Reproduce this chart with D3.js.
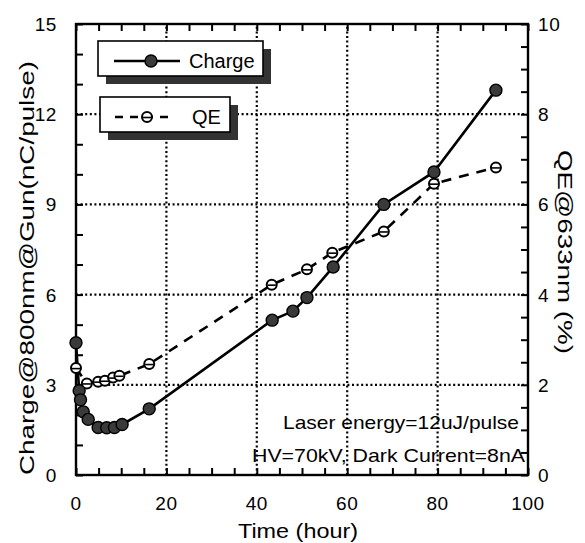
<!DOCTYPE html>
<html>
<head>
<meta charset="utf-8">
<script src="https://cdn.jsdelivr.net/npm/d3@7"></script>
<style>
  body { margin: 0; background: #fff; }
  svg { display: block; }
  text { font-family: "Liberation Sans", Arial, sans-serif; fill: #000; }
</style>
</head>
<body>
<svg id="chart" width="585" height="543"></svg>
<script>
// data
const chargeTime = [0, 0.7, 1.0, 1.6, 2.7, 4.9, 6.8, 8.5, 10.2, 16.2, 43.4, 48.0, 51.1, 56.9, 68.1, 79.2, 92.9];
const chargeValue = [4.4, 2.8, 2.5, 2.1, 1.85, 1.58, 1.57, 1.58, 1.68, 2.2, 5.15, 5.45, 5.9, 6.92, 9.0, 10.08, 12.8];

const qeTime = [0, 2.4, 4.9, 6.4, 8.2, 9.6, 16.2, 43.3, 51.1, 56.7, 68.1, 79.2, 92.9];
const qeValue = [2.37, 2.03, 2.07, 2.09, 2.16, 2.2, 2.46, 4.22, 4.56, 4.93, 5.4, 6.46, 6.82];

const xTicks = [0, 20, 40, 60, 80, 100];
const leftTicks = [0, 3, 6, 9, 12, 15];
const rightTicks = [0, 2, 4, 6, 8, 10];

const svg = d3.select("#chart");
const font = '"Liberation Sans", Arial, sans-serif';

const x = d3.scaleLinear().domain([0, 100]).range([76, 528]);
const yL = d3.scaleLinear().domain([0, 15]).range([475, 24]);
const yR = d3.scaleLinear().domain([0, 10]).range([475, 24]);

// grid
const grid = svg.append("g")
  .attr("stroke", "#000")
  .attr("stroke-width", 2.2)
  .attr("stroke-dasharray", "2,2.6");
grid.selectAll(".gx").data(xTicks.slice(1, -1)).enter().append("line")
  .attr("x1", d => x(d)).attr("x2", d => x(d))
  .attr("y1", yL(0)).attr("y2", yL(15));
grid.selectAll(".gy").data(leftTicks.slice(1, -1)).enter().append("line")
  .attr("x1", x(0)).attr("x2", x(100))
  .attr("y1", d => yL(d)).attr("y2", d => yL(d));

// axes with inward ticks
function styleAxis(g) {
  g.select(".domain").remove();
  g.selectAll("line").attr("stroke", "#000").attr("stroke-width", 2);
  g.selectAll("text").remove();
}
const minorX = d3.range(0, 101, 5);
svg.append("g").attr("transform", `translate(0,${yL(0)})`)
  .call(d3.axisBottom(x).tickValues(minorX).tickSize(-7)).call(styleAxis);
svg.append("g").attr("transform", `translate(0,${yL(15)})`)
  .call(d3.axisTop(x).tickValues(minorX).tickSize(-7)).call(styleAxis);
svg.append("g").attr("transform", `translate(${x(0)},0)`)
  .call(d3.axisLeft(yL).tickValues(d3.range(0, 16, 1)).tickSize(-7)).call(styleAxis);
svg.append("g").attr("transform", `translate(${x(100)},0)`)
  .call(d3.axisRight(yR).tickValues(d3.range(0, 10.01, 0.5)).tickSize(-7)).call(styleAxis);

// frame
svg.append("rect")
  .attr("x", x(0)).attr("y", yL(15))
  .attr("width", x(100) - x(0)).attr("height", yL(0) - yL(15))
  .attr("fill", "none").attr("stroke", "#000").attr("stroke-width", 2.4);

// tick labels
svg.selectAll(".xl").data(xTicks).enter().append("text")
  .attr("x", d => x(d)).attr("y", 510)
  .attr("text-anchor", "middle").attr("font-size", 19).attr("letter-spacing", 0.6)
  .text(d => d);
svg.selectAll(".yl").data(leftTicks).enter().append("text")
  .attr("x", 57).attr("y", d => yL(d) + 7)
  .attr("text-anchor", "end").attr("font-size", 19).attr("letter-spacing", 0.6)
  .text(d => d);
svg.selectAll(".yr").data(rightTicks).enter().append("text")
  .attr("x", 538).attr("y", d => yR(d) + 7)
  .attr("text-anchor", "start").attr("font-size", 19).attr("letter-spacing", 0.6)
  .text(d => d);

// axis titles
svg.append("text")
  .attr("x", 298).attr("y", 538)
  .attr("text-anchor", "middle").attr("font-size", 21)
  .attr("textLength", 120).attr("lengthAdjust", "spacingAndGlyphs")
  .text("Time  (hour)");
svg.append("text")
  .attr("transform", "translate(34,268) rotate(-90)")
  .attr("text-anchor", "middle").attr("font-size", 21)
  .attr("textLength", 414).attr("lengthAdjust", "spacingAndGlyphs")
  .text("Charge@800nm@Gun(nC/pulse)");
svg.append("text")
  .attr("transform", "translate(558,252) rotate(90)")
  .attr("text-anchor", "middle").attr("font-size", 21)
  .attr("textLength", 204).attr("lengthAdjust", "spacingAndGlyphs")
  .text("QE@633nm  (%)");

// annotations
svg.append("text")
  .attr("x", 519).attr("y", 429).attr("text-anchor", "end").attr("font-size", 19)
  .attr("textLength", 236).attr("lengthAdjust", "spacingAndGlyphs")
  .text("Laser energy=12uJ/pulse");
svg.append("text")
  .attr("x", 525).attr("y", 462).attr("text-anchor", "end").attr("font-size", 19)
  .attr("textLength", 273).attr("lengthAdjust", "spacingAndGlyphs")
  .text("HV=70kV, Dark Current=8nA");

// series
const chargeData = chargeTime.map((t, i) => ({ t, v: chargeValue[i] }));
const qeData = qeTime.map((t, i) => ({ t, v: qeValue[i] }));

svg.append("path").datum(qeData)
  .attr("fill", "none").attr("stroke", "#000").attr("stroke-width", 2.6)
  .attr("stroke-dasharray", "10,8")
  .attr("d", d3.line().x(d => x(d.t)).y(d => yR(d.v)));
svg.append("path").datum(chargeData)
  .attr("fill", "none").attr("stroke", "#000").attr("stroke-width", 2.6)
  .attr("d", d3.line().x(d => x(d.t)).y(d => yL(d.v)));

function openMarker(g) {
  g.append("circle").attr("r", 5).attr("fill", "#fff")
    .attr("stroke", "#000").attr("stroke-width", 2);
  g.append("line").attr("x1", -4).attr("x2", 4).attr("y1", 0.5).attr("y2", 0.5)
    .attr("stroke", "#000").attr("stroke-width", 1.6);
}
function filledMarker(g) {
  g.append("circle").attr("r", 6).attr("fill", "#3a3a3a")
    .attr("stroke", "#000").attr("stroke-width", 1.4);
}

svg.selectAll(".qe").data(qeData).enter().append("g")
  .attr("transform", d => `translate(${x(d.t)},${yR(d.v)})`)
  .each(function () { openMarker(d3.select(this)); });
svg.selectAll(".ch").data(chargeData).enter().append("g")
  .attr("transform", d => `translate(${x(d.t)},${yL(d.v)})`)
  .each(function () { filledMarker(d3.select(this)); });

// legend boxes with shadow
function legendBox(bx, by, w, h) {
  svg.append("rect").attr("x", bx + 8).attr("y", by + 8)
    .attr("width", w).attr("height", h).attr("fill", "#333");
  svg.append("rect").attr("x", bx).attr("y", by)
    .attr("width", w).attr("height", h)
    .attr("fill", "#fff").attr("stroke", "#000").attr("stroke-width", 1.6);
}
legendBox(98, 41, 165, 35);
legendBox(100, 97, 130, 35);

svg.append("line").attr("x1", 114).attr("x2", 180).attr("y1", 61).attr("y2", 61)
  .attr("stroke", "#000").attr("stroke-width", 2.4);
filledMarker(svg.append("g").attr("transform", "translate(151,61)"));
svg.append("text").attr("x", 189).attr("y", 68).attr("font-size", 20).text("Charge");

svg.append("line").attr("x1", 115).attr("x2", 172).attr("y1", 117).attr("y2", 117)
  .attr("stroke", "#000").attr("stroke-width", 2.6)
  .attr("stroke-dasharray", "8,7");
openMarker(svg.append("g").attr("transform", "translate(147,117)"));
svg.append("text").attr("x", 192).attr("y", 124).attr("font-size", 20).text("QE");
</script>
</body>
</html>
